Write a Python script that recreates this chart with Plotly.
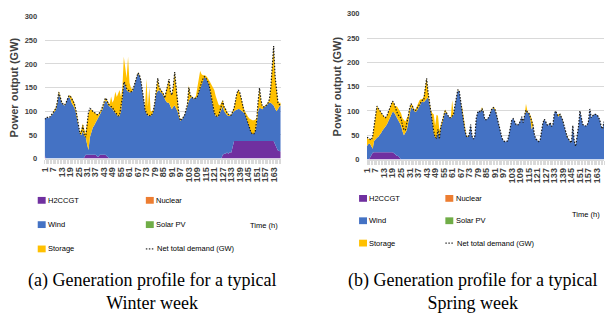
import plotly.graph_objects as go

# ---------------- data ----------------
HOURS = list(range(1, 169))
TICK_VALS = [1, 7, 13, 19, 25, 31, 37, 43, 49, 55, 61, 67, 73, 79, 85, 91, 97, 103, 109, 115,
             121, 127, 133, 139, 145, 151, 157, 163]
TICK_LABELS = ["1", "7", "13", "19", "25", "31", "37", "43", "49", "55", "61", "67", "73", "79",
               "85", "91", "97", "103", "109", "115", "121", "127", "133", "139", "145", "151",
               "157", "163"]
Y_TICKS = [0, 50, 100, 150, 200, 250, 300]
LEGEND_LABELS = ["H2CCGT", "Nuclear", "Wind", "Solar PV", "Storage", "Net total demand (GW)"]
COLORS = ["#7030A0", "#ED7D31", "#4472C4", "#70AD47", "#FFC000"]

# Winter week
WINTER_H2CCGT = [
    6, 0, 0, 0, 0, 0, 0, 0, 0, 0,
    0, 0, 0, 0, 0, 0, 0, 0, 0, 0,
    0, 0, 0, 0, 0, 0, 0, 0, 2, 8,
    8, 8, 8, 8, 8, 8, 8, 5, 4, 8,
    8, 8, 8, 8, 5, 2, 0, 0, 0, 0,
    0, 0, 0, 0, 0, 0, 0, 0, 0, 0,
    0, 0, 0, 0, 0, 0, 0, 0, 0, 0,
    0, 0, 0, 0, 0, 0, 0, 0, 0, 0,
    0, 0, 0, 0, 0, 0, 0, 0, 0, 0,
    0, 0, 0, 0, 0, 0, 0, 0, 0, 0,
    0, 0, 0, 0, 0, 0, 0, 0, 0, 0,
    0, 0, 0, 0, 0, 0, 0, 0, 0, 0,
    0, 0, 0, 0, 0, 0, 8, 10, 10, 13,
    10, 14, 12, 25, 37, 37, 37, 37, 37, 37,
    37, 37, 37, 37, 37, 37, 37, 37, 37, 37,
    37, 37, 37, 37, 37, 37, 37, 37, 37, 37,
    37, 37, 37, 30, 22, 17, 16, 15]
WINTER_NUCLEAR = [0] * 168
WINTER_WIND = [
    76, 86, 86, 85, 88, 92, 97, 101, 103, 118,
    138, 128, 118, 114, 112, 116, 126, 130, 128, 118,
    112, 108, 98, 82, 62, 52, 50, 58, 46, 37,
    22, 10, 37, 50, 57, 62, 68, 77, 84, 87,
    90, 96, 107, 114, 115, 110, 110, 108, 105, 100,
    96, 92, 89, 90, 100, 127, 160, 155, 145, 142,
    140, 140, 142, 150, 160, 172, 180, 176, 165, 145,
    122, 104, 95, 91, 90, 90, 93, 100, 118, 138,
    143, 145, 140, 138, 133, 127, 120, 118, 118, 110,
    104, 110, 112, 106, 100, 88, 80, 82, 86, 92,
    100, 112, 122, 127, 130, 127, 127, 128, 131, 140,
    150, 158, 166, 172, 170, 165, 158, 145, 128, 108,
    96, 90, 88, 90, 98, 105, 102, 90, 85, 79,
    80, 76, 80, 72, 63, 65, 67, 68, 67, 65,
    63, 60, 54, 45, 33, 25, 18, 15, 15, 21,
    35, 63, 71, 69, 67, 71, 73, 75, 79, 81,
    81, 78, 75, 76, 78, 87, 94, 97]
WINTER_SOLAR = [0] * 168
WINTER_STORAGE = [
    0, 0, 0, 0, 0, 0, 0, 2, 5, 4,
    5, 4, 2, 1, 1, 1, 2, 3, 6, 12,
    13, 10, 7, 8, 6, 3, 12, 16, 14, 7,
    45, 77, 57, 46, 35, 27, 19, 11, 5, 2,
    4, 6, 7, 6, 4, 6, 5, 23, 13, 25,
    45, 38, 51, 55, 30, 23, 55, 30, 25, 73,
    20, 10, 3, 2, 2, 2, 2, 2, 1, 1,
    2, 6, 73, 19, 60, 10, 7, 4, 4, 12,
    27, 5, 6, 4, 5, 3, 20, 37, 50, 30,
    30, 42, 71, 44, 18, 7, 2, 2, 2, 1,
    2, 3, 33, 8, 2, 1, 1, 4, 19, 25,
    35, 20, 10, 4, 5, 7, 10, 17, 28, 42,
    49, 42, 33, 24, 14, 13, 14, 10, 9, 6,
    4, 2, 1, 3, 8, 20, 34, 40, 36, 26,
    12, 7, 7, 10, 18, 22, 27, 29, 29, 24,
    14, 20, 41, 19, 6, 2, 2, 2, 2, 7,
    32, 70, 126, 69, 40, 18, 8, 6]
WINTER_DEMAND = [
    83, 87, 87, 86, 89, 93, 98, 103, 106, 120,
    140, 130, 119, 115, 113, 117, 127, 132, 133, 128,
    122, 116, 104, 85, 62, 52, 55, 70, 50, 45,
    70, 98, 106, 104, 100, 97, 95, 93, 93, 97,
    102, 110, 122, 128, 124, 115, 112, 110, 108, 102,
    98, 94, 90, 92, 108, 130, 162, 158, 148, 144,
    142, 141, 143, 151, 161, 173, 181, 177, 166, 146,
    123, 105, 96, 92, 91, 90, 94, 102, 120, 150,
    170, 150, 146, 142, 136, 128, 140, 155, 168, 140,
    134, 152, 183, 150, 116, 92, 80, 83, 87, 92,
    101, 114, 150, 133, 131, 127, 127, 128, 131, 142,
    152, 160, 168, 173, 171, 166, 159, 146, 130, 110,
    97, 91, 89, 90, 100, 112, 122, 108, 104, 96,
    93, 91, 92, 98, 106, 122, 138, 145, 140, 128,
    112, 100, 92, 82, 70, 62, 55, 52, 52, 58,
    80, 120, 149, 125, 110, 109, 111, 113, 117, 125,
    150, 185, 238, 175, 140, 118, 114, 114]

# Spring week
SPRING_H2CCGT = [
    0, 0, 3, 10, 14, 15, 15, 15, 15, 15,
    15, 15, 15, 15, 15, 15, 15, 15, 15, 13,
    10, 8, 7, 3, 0, 0, 0, 0, 0, 0,
    0, 0, 0, 0, 0, 0, 0, 0, 0, 0,
    0, 0, 0, 0, 0, 0, 0, 0, 0, 0,
    0, 0, 0, 0, 0, 0, 0, 0, 0, 0,
    0, 0, 0, 0, 0, 0, 0, 0, 0, 0,
    0, 0, 0, 0, 0, 0, 0, 0, 0, 0,
    0, 0, 0, 0, 0, 0, 0, 0, 0, 0,
    0, 0, 0, 0, 0, 0, 0, 0, 0, 0,
    0, 0, 0, 0, 0, 0, 0, 0, 0, 0,
    0, 0, 0, 0, 0, 0, 0, 0, 0, 0,
    0, 0, 0, 0, 0, 0, 0, 0, 0, 0,
    0, 0, 0, 0, 0, 0, 0, 0, 0, 0,
    0, 0, 0, 0, 0, 0, 0, 0, 0, 0,
    0, 0, 0, 0, 0, 0, 0, 0, 0, 0,
    0, 0, 0, 0, 0, 0, 0, 0]
SPRING_NUCLEAR = [0] * 168
SPRING_WIND = [
    28, 32, 30, 18, 8, 23, 27, 30, 32, 35,
    40, 45, 48, 53, 57, 63, 69, 75, 83, 84,
    82, 78, 75, 75, 70, 58, 50, 55, 60, 75,
    95, 108, 105, 100, 98, 100, 104, 110, 116, 120,
    118, 122, 125, 128, 115, 100, 80, 55, 45, 43,
    60, 42, 65, 75, 85, 97, 95, 89, 86, 85,
    88, 92, 110, 130, 143, 140, 118, 98, 75, 60,
    48, 46, 50, 72, 48, 42, 48, 85, 97, 100,
    97, 104, 98, 82, 82, 84, 88, 96, 104, 106,
    103, 95, 82, 68, 56, 45, 39, 37, 37, 38,
    50, 66, 82, 84, 76, 72, 70, 73, 78, 88,
    76, 90, 100, 96, 96, 86, 62, 70, 50, 42,
    40, 37, 40, 58, 76, 83, 76, 71, 70, 76,
    68, 72, 95, 100, 92, 88, 93, 88, 80, 68,
    56, 47, 42, 37, 34, 70, 38, 27, 45, 68,
    100, 84, 72, 70, 69, 70, 78, 104, 86, 90,
    93, 93, 92, 88, 81, 68, 63, 78]
SPRING_SOLAR = [0] * 168
SPRING_STORAGE = [
    17, 10, 9, 12, 26, 34, 53, 65, 58, 50,
    40, 32, 25, 18, 18, 18, 21, 23, 22, 19,
    16, 24, 23, 22, 25, 27, 30, 23, 25, 15,
    10, 7, 7, 4, 4, 8, 13, 12, 8, 4,
    12, 28, 42, 12, 3, 2, 15, 38, 25, 49,
    30, 18, 5, 5, 7, 6, 3, 1, 1, 1,
    34, 3, 2, 1, 1, 1, 0, 10, 13, 8,
    2, 1, 0, 0, 0, 0, 0, 0, 0, 0,
    1, 4, 1, 0, 0, 0, 0, 0, 1, 2,
    3, 1, 0, 0, 0, 0, 0, 0, 0, 0,
    0, 0, 0, 0, 0, 0, 0, 0, 0, 0,
    0, 0, 15, 4, 1, 6, 22, 2, 0, 0,
    0, 0, 0, 0, 0, 0, 0, 0, 0, 0,
    0, 0, 0, 0, 0, 5, 1, 0, 0, 0,
    0, 0, 0, 0, 0, 0, 0, 0, 0, 0,
    0, 0, 0, 0, 0, 0, 0, 0, 0, 0,
    0, 0, 0, 0, 0, 0, 0, 0]
SPRING_DEMAND = [
    46, 44, 42, 40, 48, 72, 95, 110, 105, 100,
    95, 92, 88, 86, 90, 96, 105, 113, 120, 116,
    105, 98, 92, 88, 85, 70, 62, 60, 72, 88,
    105, 115, 110, 102, 100, 104, 108, 114, 118, 122,
    122, 140, 167, 138, 116, 101, 82, 58, 46, 44,
    62, 42, 67, 78, 88, 100, 96, 89, 86, 86,
    90, 93, 111, 130, 144, 140, 118, 100, 76, 60,
    48, 46, 50, 72, 48, 42, 48, 85, 97, 100,
    97, 105, 98, 82, 82, 84, 88, 96, 105, 107,
    104, 95, 82, 68, 56, 45, 39, 37, 37, 38,
    50, 66, 82, 84, 76, 72, 70, 73, 78, 88,
    76, 90, 102, 98, 96, 88, 80, 70, 50, 42,
    40, 37, 40, 58, 76, 83, 76, 71, 70, 76,
    68, 72, 95, 100, 92, 90, 93, 88, 80, 68,
    56, 47, 42, 37, 34, 70, 38, 27, 45, 68,
    100, 84, 72, 70, 69, 70, 78, 104, 86, 90,
    93, 93, 92, 88, 81, 68, 63, 78]

for arr in [WINTER_H2CCGT, WINTER_WIND, WINTER_STORAGE, WINTER_DEMAND,
            SPRING_H2CCGT, SPRING_WIND, SPRING_STORAGE, SPRING_DEMAND]:
    assert len(arr) == 168, len(arr)

# ---------------- figure ----------------
W, H = 609, 321
SANS = "Liberation Sans, Arial, sans-serif"
SERIF = "Liberation Serif, Times New Roman, serif"
TXT = "#404040"
GRID = "#D9D9D9"


def fx(px):
    return px / W


def fy(py):
    return 1 - py / H


fig = go.Figure()

panels = [
    dict(x="x", y="y", series=[WINTER_H2CCGT, WINTER_NUCLEAR, WINTER_WIND, WINTER_SOLAR, WINTER_STORAGE],
         demand=WINTER_DEMAND, grp="winter"),
    dict(x="x2", y="y2", series=[SPRING_H2CCGT, SPRING_NUCLEAR, SPRING_WIND, SPRING_SOLAR, SPRING_STORAGE],
         demand=SPRING_DEMAND, grp="spring"),
]
for p in panels:
    for name, vals, col in zip(LEGEND_LABELS[:5], p["series"], COLORS):
        fig.add_trace(go.Scatter(
            x=HOURS, y=vals, name=name, stackgroup=p["grp"], mode="lines",
            line=dict(width=0, color=col), fillcolor=col,
            xaxis=p["x"], yaxis=p["y"], showlegend=False))
    fig.add_trace(go.Scatter(
        x=HOURS, y=p["demand"], name=LEGEND_LABELS[5], mode="lines",
        line=dict(color="#1a1a1a", width=1.2, dash="1.5px,1.5px"),
        xaxis=p["x"], yaxis=p["y"], showlegend=False))

xaxis_common = dict(
    range=[1, 168], tickmode="array", tickvals=TICK_VALS, ticktext=TICK_LABELS,
    tickangle=-90, ticks="outside", ticklen=4, tickcolor=GRID,
    minor=dict(tickmode="linear", tick0=1, dtick=1, ticks="outside", ticklen=4,
               tickcolor=GRID, showgrid=False),
    showline=True, linecolor=GRID, linewidth=1, showgrid=False, zeroline=False,
    tickfont=dict(family=SANS, size=9, color=TXT, weight="bold"),
)
yaxis_common = dict(
    range=[0, 300], tickmode="array", tickvals=Y_TICKS,
    showgrid=True, gridcolor=GRID, gridwidth=1, zeroline=False, showline=False,
    ticks="outside", ticklen=5, tickcolor="rgba(0,0,0,0)",
    tickfont=dict(family=SANS, size=7.5, color=TXT, weight="bold"),
    title=dict(text="Power output (GW)", standoff=3,
               font=dict(family=SANS, size=11, color=TXT, weight="bold")),
)

fig.update_layout(
    width=W, height=H, margin=dict(l=0, r=0, t=0, b=0),
    paper_bgcolor="white", plot_bgcolor="white", showlegend=False,
    xaxis=dict(domain=[fx(40), fx(278)], anchor="y", **xaxis_common),
    yaxis=dict(domain=[fy(159), fy(13)], anchor="x", **yaxis_common),
    xaxis2=dict(domain=[fx(365), fx(604)], anchor="y2", **xaxis_common),
    yaxis2=dict(domain=[fy(160), fy(10)], anchor="x2", **yaxis_common),
)

# ---------------- manual legends, captions ----------------
shapes = []
annotations = []
legend_specs = [
    dict(rows=[202, 227, 252], cols=[33, 142], time=(277, 228),
         caption="(a) Generation profile for a typical<br>Winter week", cap_x=148.5),
    dict(rows=[200, 223, 246], cols=[357, 444], time=(602, 217),
         caption="(b) Generation profile for a typical<br>Spring week", cap_x=471),
]
LEG_FONT = dict(family=SANS, size=7.5, color="#000000")
for spec in legend_specs:
    for i, label in enumerate(LEGEND_LABELS):
        r, c = divmod(i, 2)
        yc = spec["rows"][r]
        x0 = spec["cols"][c]
        if i < 5:
            shapes.append(dict(type="rect", xref="paper", yref="paper",
                               x0=fx(x0), x1=fx(x0 + 8), y0=fy(yc + 3.5), y1=fy(yc - 3.5),
                               fillcolor=COLORS[i], line=dict(width=0)))
            tx = x0 + 8.5
        else:
            shapes.append(dict(type="line", xref="paper", yref="paper",
                               x0=fx(x0), x1=fx(x0 + 9), y0=fy(yc), y1=fy(yc),
                               line=dict(color="#000000", width=1, dash="1.5px,1.5px")))
            tx = x0 + 9.5
        annotations.append(dict(text=label, xref="paper", yref="paper", x=fx(tx), y=fy(yc),
                                xanchor="left", yanchor="middle", showarrow=False,
                                font=LEG_FONT))
    annotations.append(dict(text="Time (h)", xref="paper", yref="paper",
                            x=fx(spec["time"][0]), y=fy(spec["time"][1]),
                            xanchor="right", yanchor="middle", showarrow=False,
                            font=LEG_FONT))
    annotations.append(dict(text=spec["caption"], xref="paper", yref="paper",
                            x=fx(spec["cap_x"]), y=fy(296), xanchor="center", yanchor="middle",
                            showarrow=False, align="center",
                            font=dict(family=SERIF, size=18, color="#000000")))

fig.update_layout(shapes=shapes, annotations=annotations)
fig.write_html("out.html",
               config={"displayModeBar": False},
               post_script="document.body.style.margin='0';document.body.style.padding='0';"
                           "document.body.style.overflow='hidden';")
